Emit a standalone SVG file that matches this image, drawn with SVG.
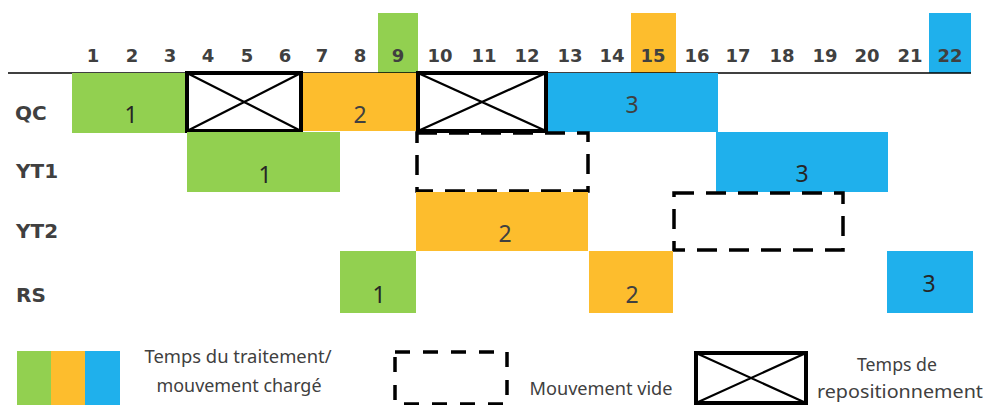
<svg xmlns="http://www.w3.org/2000/svg" width="987" height="405" viewBox="0 0 987 405">
<style>
.g{fill:#92D050}.o{fill:#FDBD2D}.b{fill:#1FB0EC}
.num{font-family:"DejaVu Sans",sans-serif;font-weight:bold;font-size:18px;fill:#404040;text-anchor:middle}
.row{font-family:"DejaVu Sans",sans-serif;font-weight:bold;font-size:20px;fill:#404040}
.lbl{font-family:"Noto Sans",sans-serif;font-size:23px;fill:#262626;text-anchor:middle}
.leg{font-family:"Noto Sans",sans-serif;font-size:18px;fill:#404040;text-anchor:middle}
.cross{fill:#fff;stroke:#000;stroke-width:4}
.diag{stroke:#000;stroke-width:2.2;fill:none}
.dash{fill:none;stroke:#000;stroke-width:3.5;stroke-dasharray:20 12}
</style>
<rect width="987" height="405" fill="#fff"/>
<g id="highlights">
<rect class="g" x="378" y="13" width="40" height="60"/>
<rect class="o" x="631" y="13" width="45" height="60"/>
<rect class="b" x="929" y="13" width="42" height="60"/>
</g>
<g id="axis">
<text class="num" x="93" y="62">1</text>
<text class="num" x="132" y="62">2</text>
<text class="num" x="170" y="62">3</text>
<text class="num" x="208" y="62">4</text>
<text class="num" x="247" y="62">5</text>
<text class="num" x="285" y="62">6</text>
<text class="num" x="322" y="62">7</text>
<text class="num" x="360" y="62">8</text>
<text class="num" x="398" y="62">9</text>
<text class="num" x="440" y="62">10</text>
<text class="num" x="484" y="62">11</text>
<text class="num" x="527" y="62">12</text>
<text class="num" x="570" y="62">13</text>
<text class="num" x="612" y="62">14</text>
<text class="num" x="653" y="62">15</text>
<text class="num" x="697" y="62">16</text>
<text class="num" x="738" y="62">17</text>
<text class="num" x="782" y="62">18</text>
<text class="num" x="825" y="62">19</text>
<text class="num" x="867" y="62">20</text>
<text class="num" x="910" y="62">21</text>
<text class="num" x="950" y="62">22</text>
<line x1="8" y1="73" x2="971" y2="73" stroke="#000" stroke-width="1.5"/>
</g>
<g id="rows">
<text class="row" x="15" y="120">QC</text>
<text class="row" x="16" y="178">YT1</text>
<text class="row" x="16" y="238">YT2</text>
<text class="row" x="16" y="302">RS</text>
</g>
<g id="qc">
<rect class="g" x="72" y="73" width="115" height="60"/>
<text class="lbl" x="131" y="123">1</text>
<rect class="o" x="303" y="73" width="114" height="58"/>
<text class="lbl" x="360" y="123" style="fill:#404040">2</text>
<rect class="b" x="547" y="73" width="171" height="59"/>
<text class="lbl" x="632" y="113" style="fill:#404040">3</text>
<rect class="cross" x="187" y="73" width="114" height="58"/>
<path class="diag" d="M187 73L301 131M187 131L301 73"/>
<rect class="cross" x="418" y="73" width="128" height="58"/>
<path class="diag" d="M418 73L546 131M418 131L546 73"/>
</g>
<g id="yt1">
<rect class="g" x="187" y="132" width="153" height="60"/>
<text class="lbl" x="265" y="183">1</text>
<rect class="b" x="716" y="132" width="172" height="60"/>
<text class="lbl" x="802" y="182">3</text>
<rect class="dash" x="417" y="133" width="171" height="58"/>
</g>
<g id="yt2">
<rect class="o" x="416" y="192" width="172" height="59"/>
<text class="lbl" x="505" y="242" style="fill:#404040">2</text>
<rect class="dash" x="674" y="193" width="169" height="57"/>
</g>
<g id="rs">
<rect class="g" x="340" y="251" width="76" height="62"/>
<text class="lbl" x="379" y="303">1</text>
<rect class="o" x="589" y="251" width="84" height="62"/>
<text class="lbl" x="632" y="303" style="fill:#404040">2</text>
<rect class="b" x="887" y="251" width="86" height="62"/>
<text class="lbl" x="929" y="292">3</text>
</g>
<g id="legend">
<rect class="g" x="17" y="351" width="34" height="54"/>
<rect class="o" x="51" y="351" width="34" height="54"/>
<rect class="b" x="85" y="351" width="35" height="54"/>
<text class="leg" x="238" y="363" textLength="187" lengthAdjust="spacingAndGlyphs">Temps du traitement/</text>
<text class="leg" x="239" y="392" textLength="165" lengthAdjust="spacingAndGlyphs">mouvement chargé</text>
<rect x="395" y="352" width="112" height="52" fill="none" stroke="#000" stroke-width="3.5" stroke-dasharray="15 13"/>
<text class="leg" x="601" y="395" textLength="143" lengthAdjust="spacingAndGlyphs">Mouvement vide</text>
<rect class="cross" x="696" y="353" width="110" height="50"/>
<path class="diag" d="M696 353L806 403M696 403L806 353"/>
<text class="leg" x="897" y="371" textLength="80" lengthAdjust="spacingAndGlyphs">Temps de</text>
<text class="leg" x="900" y="398" textLength="166" lengthAdjust="spacingAndGlyphs">repositionnement</text>
</g>
</svg>
